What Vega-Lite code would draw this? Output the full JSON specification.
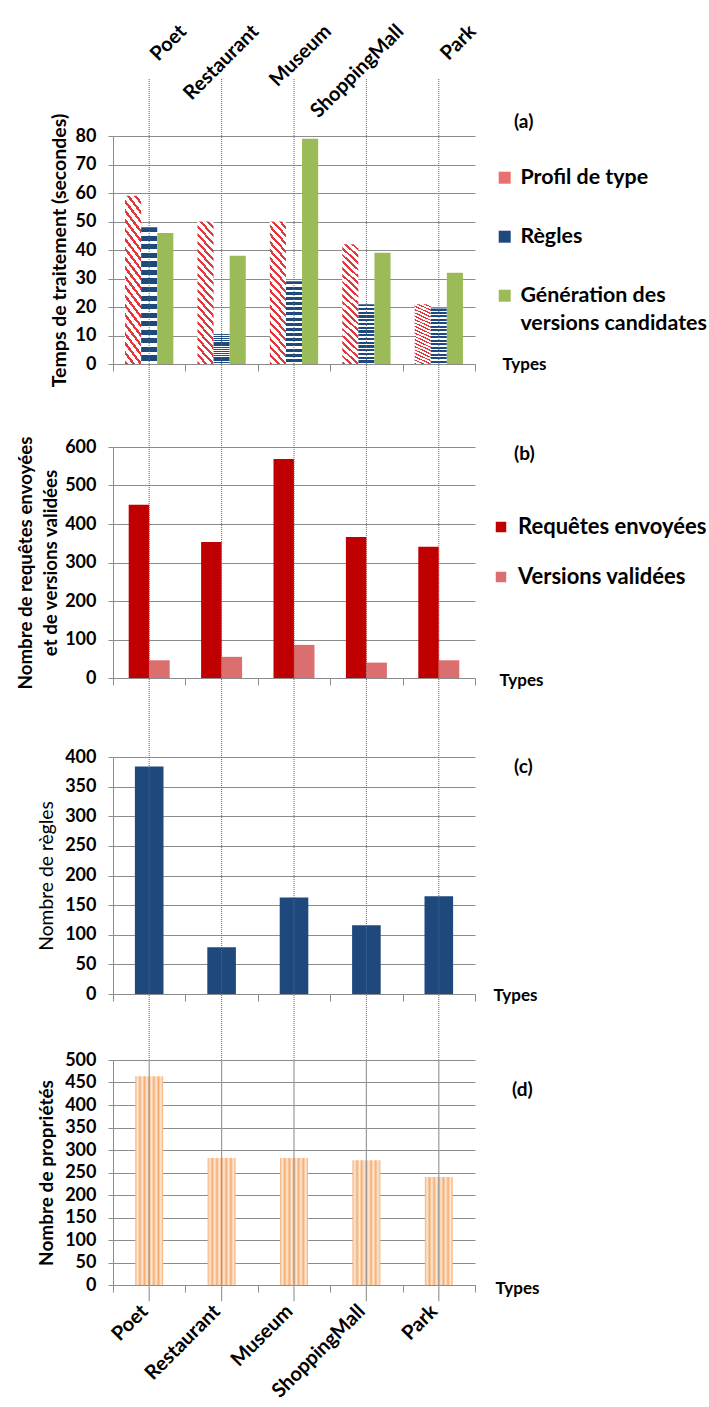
{
  "$schema": "https://vega.github.io/schema/vega-lite/v6.json",
  "background": "white",
  "padding": {"left": 16, "top": 20, "right": 0, "bottom": 0},
  "spacing": 83,
  "bounds": "flush",
  "resolve": {"scale": {"fill": "independent"}, "legend": {"fill": "independent"}},
  "config": {
    "font": "Lato",
    "view": {"stroke": null},
    "axis": {
      "domainColor": "#8C8C8C",
      "gridColor": "#8C8C8C",
      "tickColor": "#8C8C8C",
      "labelFont": "Lato",
      "labelFontWeight": "bold",
      "labelFontSize": 18,
      "labelColor": "#000000",
      "titleColor": "#000000",
      "titleFont": "Lato",
      "titleFontWeight": "bold",
      "titleFontSize": 19
    },
    "legend": {"labelFont": "Lato", "labelFontWeight": "bold", "labelColor": "#000000", "labelLimit": 300},
    "title": {"font": "Lato", "fontWeight": "bold", "fontSize": 19, "color": "#000000"}
  },
  "vconcat": [
    {
      "width": 362,
      "height": 228,
      "title": {"text": "(a)", "orient": "top", "anchor": "start", "frame": "group", "align": "left", "dx": 401, "dy": 111, "offset": 0},
      "data": {"values": [
        {"type": "Poet", "serie": "Profil de type", "value": 59},
        {"type": "Poet", "serie": "Règles", "value": 48},
        {"type": "Poet", "serie": "Génération des versions candidates", "value": 46},
        {"type": "Restaurant", "serie": "Profil de type", "value": 50},
        {"type": "Restaurant", "serie": "Règles", "value": 10.5},
        {"type": "Restaurant", "serie": "Génération des versions candidates", "value": 38},
        {"type": "Museum", "serie": "Profil de type", "value": 50},
        {"type": "Museum", "serie": "Règles", "value": 29},
        {"type": "Museum", "serie": "Génération des versions candidates", "value": 79},
        {"type": "ShoppingMall", "serie": "Profil de type", "value": 42},
        {"type": "ShoppingMall", "serie": "Règles", "value": 21},
        {"type": "ShoppingMall", "serie": "Génération des versions candidates", "value": 39},
        {"type": "Park", "serie": "Profil de type", "value": 21},
        {"type": "Park", "serie": "Règles", "value": 19.5},
        {"type": "Park", "serie": "Génération des versions candidates", "value": 32}
      ]},
      "resolve": {"axis": {"x": "independent"}},
      "layer": [
        {
          "layer": [
            {
              "transform": [{"filter": "datum.serie == 'Profil de type'"}],
              "mark": {"type": "bar", "width": 16.1, "xOffset": -16.1},
              "encoding": {
                "x": {"field": "type", "type": "nominal", "sort": ["Poet", "Restaurant", "Museum", "ShoppingMall", "Park"], "scale": {"paddingInner": 0, "paddingOuter": 0},
                      "axis": {"orient": "bottom", "labels": false, "grid": false, "tickBand": "extent", "tickSize": 7, "title": "Types", "titleX": 389, "titleY": 0, "titleAlign": "left", "titleBaseline": "middle", "titleAngle": 0, "titleFontSize": 17}},
                "y": {"field": "value", "type": "quantitative", "scale": {"domain": [0, 80], "nice": false},
                      "axis": {"values": [0, 10, 20, 30, 40, 50, 60, 70, 80], "tickSize": 5, "labelPadding": 12, "title": "Temps de traitement (secondes)", "titleFontSize": 19.5, "titlePadding": 6}},
                "fill": {
                  "datum": "Profil de type",
                  "scale": {"domain": ["Profil de type", "Règles", "Génération des versions candidates"], "range": ["#E87070", "#1F497D", "#9BBB59"]},
                  "legend": {"orient": "none", "legendX": 381, "legendY": 31, "title": null, "symbolType": "square", "symbolSize": 144, "symbolStrokeWidth": 0, "labelFontSize": 21.4, "labelOffset": 5, "rowPadding": 36,
                             "labelExpr": "datum.label == 'Génération des versions candidates' ? ['Génération des', 'versions candidates'] : datum.label",
                             "encode": {"labels": {"update": {"lineHeight": {"value": 28}}}}},
                  "condition": {"test": "true", "value": {"gradient": "linear", "x1": 0, "y1": 1, "x2": 0.1385, "y2": -0.108, "stops": [
                    {"offset": 0, "color": "#E0383C"}, {"offset": 0.02, "color": "#E0383C"}, {"offset": 0.02, "color": "#FFFFFF"}, {"offset": 0.05, "color": "#FFFFFF"},
                    {"offset": 0.05, "color": "#E0383C"}, {"offset": 0.07, "color": "#E0383C"}, {"offset": 0.07, "color": "#FFFFFF"}, {"offset": 0.1, "color": "#FFFFFF"},
                    {"offset": 0.1, "color": "#E0383C"}, {"offset": 0.12, "color": "#E0383C"}, {"offset": 0.12, "color": "#FFFFFF"}, {"offset": 0.15, "color": "#FFFFFF"},
                    {"offset": 0.15, "color": "#E0383C"}, {"offset": 0.17, "color": "#E0383C"}, {"offset": 0.17, "color": "#FFFFFF"}, {"offset": 0.2, "color": "#FFFFFF"},
                    {"offset": 0.2, "color": "#E0383C"}, {"offset": 0.22, "color": "#E0383C"}, {"offset": 0.22, "color": "#FFFFFF"}, {"offset": 0.25, "color": "#FFFFFF"},
                    {"offset": 0.25, "color": "#E0383C"}, {"offset": 0.27, "color": "#E0383C"}, {"offset": 0.27, "color": "#FFFFFF"}, {"offset": 0.3, "color": "#FFFFFF"},
                    {"offset": 0.3, "color": "#E0383C"}, {"offset": 0.32, "color": "#E0383C"}, {"offset": 0.32, "color": "#FFFFFF"}, {"offset": 0.35, "color": "#FFFFFF"},
                    {"offset": 0.35, "color": "#E0383C"}, {"offset": 0.37, "color": "#E0383C"}, {"offset": 0.37, "color": "#FFFFFF"}, {"offset": 0.4, "color": "#FFFFFF"},
                    {"offset": 0.4, "color": "#E0383C"}, {"offset": 0.42, "color": "#E0383C"}, {"offset": 0.42, "color": "#FFFFFF"}, {"offset": 0.45, "color": "#FFFFFF"},
                    {"offset": 0.45, "color": "#E0383C"}, {"offset": 0.47, "color": "#E0383C"}, {"offset": 0.47, "color": "#FFFFFF"}, {"offset": 0.5, "color": "#FFFFFF"},
                    {"offset": 0.5, "color": "#E0383C"}, {"offset": 0.52, "color": "#E0383C"}, {"offset": 0.52, "color": "#FFFFFF"}, {"offset": 0.55, "color": "#FFFFFF"},
                    {"offset": 0.55, "color": "#E0383C"}, {"offset": 0.57, "color": "#E0383C"}, {"offset": 0.57, "color": "#FFFFFF"}, {"offset": 0.6, "color": "#FFFFFF"},
                    {"offset": 0.6, "color": "#E0383C"}, {"offset": 0.62, "color": "#E0383C"}, {"offset": 0.62, "color": "#FFFFFF"}, {"offset": 0.65, "color": "#FFFFFF"},
                    {"offset": 0.65, "color": "#E0383C"}, {"offset": 0.67, "color": "#E0383C"}, {"offset": 0.67, "color": "#FFFFFF"}, {"offset": 0.7, "color": "#FFFFFF"},
                    {"offset": 0.7, "color": "#E0383C"}, {"offset": 0.72, "color": "#E0383C"}, {"offset": 0.72, "color": "#FFFFFF"}, {"offset": 0.75, "color": "#FFFFFF"},
                    {"offset": 0.75, "color": "#E0383C"}, {"offset": 0.77, "color": "#E0383C"}, {"offset": 0.77, "color": "#FFFFFF"}, {"offset": 0.8, "color": "#FFFFFF"},
                    {"offset": 0.8, "color": "#E0383C"}, {"offset": 0.82, "color": "#E0383C"}, {"offset": 0.82, "color": "#FFFFFF"}, {"offset": 0.85, "color": "#FFFFFF"},
                    {"offset": 0.85, "color": "#E0383C"}, {"offset": 0.87, "color": "#E0383C"}, {"offset": 0.87, "color": "#FFFFFF"}, {"offset": 0.9, "color": "#FFFFFF"},
                    {"offset": 0.9, "color": "#E0383C"}, {"offset": 0.92, "color": "#E0383C"}, {"offset": 0.92, "color": "#FFFFFF"}, {"offset": 0.95, "color": "#FFFFFF"},
                    {"offset": 0.95, "color": "#E0383C"}, {"offset": 0.97, "color": "#E0383C"}, {"offset": 0.97, "color": "#FFFFFF"}, {"offset": 1, "color": "#FFFFFF"}
                  ]}}
                }
              }
            },
            {
              "transform": [{"filter": "datum.serie == 'Règles'"}],
              "mark": {"type": "bar", "width": 16.1, "xOffset": 0},
              "encoding": {
                "x": {"field": "type", "type": "nominal", "sort": ["Poet", "Restaurant", "Museum", "ShoppingMall", "Park"], "scale": {"paddingInner": 0, "paddingOuter": 0},
                      "axis": {"orient": "bottom", "labels": false, "grid": false, "tickBand": "extent", "tickSize": 7, "title": "Types", "titleX": 389, "titleY": 0, "titleAlign": "left", "titleBaseline": "middle", "titleAngle": 0, "titleFontSize": 17}},
                "y": {"field": "value", "type": "quantitative", "scale": {"domain": [0, 80], "nice": false},
                      "axis": {"values": [0, 10, 20, 30, 40, 50, 60, 70, 80], "tickSize": 5, "labelPadding": 12, "title": "Temps de traitement (secondes)", "titleFontSize": 19.5, "titlePadding": 6}},
                "fill": {
                  "datum": "Règles",
                  "scale": {"domain": ["Profil de type", "Règles", "Génération des versions candidates"], "range": ["#E87070", "#1F497D", "#9BBB59"]},
                  "legend": {"orient": "none", "legendX": 381, "legendY": 31, "title": null, "symbolType": "square", "symbolSize": 144, "symbolStrokeWidth": 0, "labelFontSize": 21.4, "labelOffset": 5, "rowPadding": 36,
                             "labelExpr": "datum.label == 'Génération des versions candidates' ? ['Génération des', 'versions candidates'] : datum.label",
                             "encode": {"labels": {"update": {"lineHeight": {"value": 28}}}}},
                  "condition": {"test": "true", "value": {"gradient": "linear", "x1": 0, "y1": 0, "x2": 0, "y2": 1, "stops": [
                    {"offset": 0, "color": "#1F497D"}, {"offset": 0.0375, "color": "#1F497D"}, {"offset": 0.0375, "color": "#FFFFFF"}, {"offset": 0.0625, "color": "#FFFFFF"},
                    {"offset": 0.0625, "color": "#1F497D"}, {"offset": 0.1, "color": "#1F497D"}, {"offset": 0.1, "color": "#FFFFFF"}, {"offset": 0.125, "color": "#FFFFFF"},
                    {"offset": 0.125, "color": "#1F497D"}, {"offset": 0.1625, "color": "#1F497D"}, {"offset": 0.1625, "color": "#FFFFFF"}, {"offset": 0.1875, "color": "#FFFFFF"},
                    {"offset": 0.1875, "color": "#1F497D"}, {"offset": 0.225, "color": "#1F497D"}, {"offset": 0.225, "color": "#FFFFFF"}, {"offset": 0.25, "color": "#FFFFFF"},
                    {"offset": 0.25, "color": "#1F497D"}, {"offset": 0.2875, "color": "#1F497D"}, {"offset": 0.2875, "color": "#FFFFFF"}, {"offset": 0.3125, "color": "#FFFFFF"},
                    {"offset": 0.3125, "color": "#1F497D"}, {"offset": 0.35, "color": "#1F497D"}, {"offset": 0.35, "color": "#FFFFFF"}, {"offset": 0.375, "color": "#FFFFFF"},
                    {"offset": 0.375, "color": "#1F497D"}, {"offset": 0.4125, "color": "#1F497D"}, {"offset": 0.4125, "color": "#FFFFFF"}, {"offset": 0.4375, "color": "#FFFFFF"},
                    {"offset": 0.4375, "color": "#1F497D"}, {"offset": 0.475, "color": "#1F497D"}, {"offset": 0.475, "color": "#FFFFFF"}, {"offset": 0.5, "color": "#FFFFFF"},
                    {"offset": 0.5, "color": "#1F497D"}, {"offset": 0.5375, "color": "#1F497D"}, {"offset": 0.5375, "color": "#FFFFFF"}, {"offset": 0.5625, "color": "#FFFFFF"},
                    {"offset": 0.5625, "color": "#1F497D"}, {"offset": 0.6, "color": "#1F497D"}, {"offset": 0.6, "color": "#FFFFFF"}, {"offset": 0.625, "color": "#FFFFFF"},
                    {"offset": 0.625, "color": "#1F497D"}, {"offset": 0.6625, "color": "#1F497D"}, {"offset": 0.6625, "color": "#FFFFFF"}, {"offset": 0.6875, "color": "#FFFFFF"},
                    {"offset": 0.6875, "color": "#1F497D"}, {"offset": 0.725, "color": "#1F497D"}, {"offset": 0.725, "color": "#FFFFFF"}, {"offset": 0.75, "color": "#FFFFFF"},
                    {"offset": 0.75, "color": "#1F497D"}, {"offset": 0.7875, "color": "#1F497D"}, {"offset": 0.7875, "color": "#FFFFFF"}, {"offset": 0.8125, "color": "#FFFFFF"},
                    {"offset": 0.8125, "color": "#1F497D"}, {"offset": 0.85, "color": "#1F497D"}, {"offset": 0.85, "color": "#FFFFFF"}, {"offset": 0.875, "color": "#FFFFFF"},
                    {"offset": 0.875, "color": "#1F497D"}, {"offset": 0.9125, "color": "#1F497D"}, {"offset": 0.9125, "color": "#FFFFFF"}, {"offset": 0.9375, "color": "#FFFFFF"},
                    {"offset": 0.9375, "color": "#1F497D"}, {"offset": 0.975, "color": "#1F497D"}, {"offset": 0.975, "color": "#FFFFFF"}, {"offset": 1, "color": "#FFFFFF"}
                  ]}}
                }
              }
            },
            {
              "transform": [{"filter": "datum.serie == 'Génération des versions candidates'"}],
              "mark": {"type": "bar", "width": 16.1, "xOffset": 16.1},
              "encoding": {
                "x": {"field": "type", "type": "nominal", "sort": ["Poet", "Restaurant", "Museum", "ShoppingMall", "Park"], "scale": {"paddingInner": 0, "paddingOuter": 0},
                      "axis": {"orient": "bottom", "labels": false, "grid": false, "tickBand": "extent", "tickSize": 7, "title": "Types", "titleX": 389, "titleY": 0, "titleAlign": "left", "titleBaseline": "middle", "titleAngle": 0, "titleFontSize": 17}},
                "y": {"field": "value", "type": "quantitative", "scale": {"domain": [0, 80], "nice": false},
                      "axis": {"values": [0, 10, 20, 30, 40, 50, 60, 70, 80], "tickSize": 5, "labelPadding": 12, "title": "Temps de traitement (secondes)", "titleFontSize": 19.5, "titlePadding": 6}},
                "fill": {
                  "datum": "Génération des versions candidates",
                  "scale": {"domain": ["Profil de type", "Règles", "Génération des versions candidates"], "range": ["#E87070", "#1F497D", "#9BBB59"]},
                  "legend": {"orient": "none", "legendX": 381, "legendY": 31, "title": null, "symbolType": "square", "symbolSize": 144, "symbolStrokeWidth": 0, "labelFontSize": 21.4, "labelOffset": 5, "rowPadding": 36,
                             "labelExpr": "datum.label == 'Génération des versions candidates' ? ['Génération des', 'versions candidates'] : datum.label",
                             "encode": {"labels": {"update": {"lineHeight": {"value": 28}}}}}
                }
              }
            }
          ]
        },
        {
          "data": {"values": [{"type": "Poet"}, {"type": "Restaurant"}, {"type": "Museum"}, {"type": "ShoppingMall"}, {"type": "Park"}]},
          "mark": {"type": "rule", "clip": false, "color": "#666666", "strokeDash": [1, 1], "strokeWidth": 1},
          "encoding": {
            "x": {
              "field": "type", "type": "nominal",
              "sort": ["Poet", "Restaurant", "Museum", "ShoppingMall", "Park"],
              "axis": {"orient": "top", "domain": false, "ticks": false, "grid": false, "title": null,
                       "labelAngle": -45, "labelAlign": "right", "labelBaseline": "middle", "labelPadding": 108, "labelOffset": 34,
                       "labelFontSize": 20, "labelOverlap": false}
            },
            "y": {"datum": 100, "type": "quantitative", "scale": {"domain": [0, 80], "nice": false},
                  "axis": {"values": [0, 10, 20, 30, 40, 50, 60, 70, 80], "tickSize": 5, "labelPadding": 12, "title": "Temps de traitement (secondes)", "titleFontSize": 19.5, "titlePadding": 6}},
            "y2": {"datum": -29}
          }
        }
      ]
    },
    {
      "spacing": 79,
      "bounds": "flush",
      "resolve": {"scale": {"fill": "independent"}, "legend": {"fill": "independent"}},
      "vconcat": [
        {
          "width": 362,
          "height": 231,
          "title": {"text": "(b)", "orient": "top", "anchor": "start", "frame": "group", "align": "left", "dx": 401, "dy": 28, "offset": 0},
          "data": {"values": [
            {"type": "Poet", "serie": "Requêtes envoyées", "value": 450},
            {"type": "Poet", "serie": "Versions validées", "value": 46},
            {"type": "Restaurant", "serie": "Requêtes envoyées", "value": 353},
            {"type": "Restaurant", "serie": "Versions validées", "value": 55},
            {"type": "Museum", "serie": "Requêtes envoyées", "value": 569},
            {"type": "Museum", "serie": "Versions validées", "value": 86},
            {"type": "ShoppingMall", "serie": "Requêtes envoyées", "value": 366},
            {"type": "ShoppingMall", "serie": "Versions validées", "value": 40},
            {"type": "Park", "serie": "Requêtes envoyées", "value": 341},
            {"type": "Park", "serie": "Versions validées", "value": 46}
          ]},
          "layer": [
            {
              "transform": [{"filter": "datum.serie == 'Requêtes envoyées'"}],
              "mark": {"type": "bar", "width": 20.5, "xOffset": -10.25},
              "encoding": {
                "x": {"field": "type", "type": "nominal", "sort": ["Poet", "Restaurant", "Museum", "ShoppingMall", "Park"], "scale": {"paddingInner": 0, "paddingOuter": 0},
                      "axis": {"orient": "bottom", "labels": false, "grid": false, "tickBand": "extent", "tickSize": 7, "title": "Types", "titleX": 386, "titleY": 2, "titleAlign": "left", "titleBaseline": "middle", "titleAngle": 0, "titleFontSize": 17}},
                "y": {"field": "value", "type": "quantitative", "scale": {"domain": [0, 600], "nice": false},
                      "axis": {"values": [0, 100, 200, 300, 400, 500, 600], "tickSize": 5, "labelPadding": 12, "title": ["Nombre de requêtes envoyées", "et de versions validées"], "titleFontSize": 18.7, "titlePadding": 4, "titleLineHeight": 25}},
                "fill": {
                  "datum": "Requêtes envoyées",
                  "scale": {"domain": ["Requêtes envoyées", "Versions validées"], "range": ["#C00000", "#DB6F6F"]},
                  "legend": {"orient": "none", "legendX": 377, "legendY": 69, "title": null, "symbolType": "square", "symbolSize": 110, "symbolStrokeWidth": 0, "labelFontSize": 22, "labelOffset": 6, "rowPadding": 28}
                }
              }
            },
            {
              "transform": [{"filter": "datum.serie == 'Versions validées'"}],
              "mark": {"type": "bar", "width": 20.5, "xOffset": 10.25},
              "encoding": {
                "x": {"field": "type", "type": "nominal", "sort": ["Poet", "Restaurant", "Museum", "ShoppingMall", "Park"], "scale": {"paddingInner": 0, "paddingOuter": 0},
                      "axis": {"orient": "bottom", "labels": false, "grid": false, "tickBand": "extent", "tickSize": 7, "title": "Types", "titleX": 386, "titleY": 2, "titleAlign": "left", "titleBaseline": "middle", "titleAngle": 0, "titleFontSize": 17}},
                "y": {"field": "value", "type": "quantitative", "scale": {"domain": [0, 600], "nice": false},
                      "axis": {"values": [0, 100, 200, 300, 400, 500, 600], "tickSize": 5, "labelPadding": 12, "title": ["Nombre de requêtes envoyées", "et de versions validées"], "titleFontSize": 18.7, "titlePadding": 4, "titleLineHeight": 25}},
                "fill": {
                  "datum": "Versions validées",
                  "scale": {"domain": ["Requêtes envoyées", "Versions validées"], "range": ["#C00000", "#DB6F6F"]},
                  "legend": {"orient": "none", "legendX": 377, "legendY": 69, "title": null, "symbolType": "square", "symbolSize": 110, "symbolStrokeWidth": 0, "labelFontSize": 22, "labelOffset": 6, "rowPadding": 28}
                }
              }
            },
            {
              "data": {"values": [{"type": "Poet"}, {"type": "Restaurant"}, {"type": "Museum"}, {"type": "ShoppingMall"}, {"type": "Park"}]},
              "mark": {"type": "rule", "clip": false, "color": "#666666", "strokeDash": [1, 1], "strokeWidth": 1},
              "encoding": {
                "x": {"field": "type", "type": "nominal", "sort": ["Poet", "Restaurant", "Museum", "ShoppingMall", "Park"],
                      "axis": {"orient": "bottom", "labels": false, "grid": false, "tickBand": "extent", "tickSize": 7, "title": "Types", "titleX": 386, "titleY": 2, "titleAlign": "left", "titleBaseline": "middle", "titleAngle": 0, "titleFontSize": 17}},
                "y": {"datum": 600, "type": "quantitative", "scale": {"domain": [0, 600], "nice": false},
                      "axis": {"values": [0, 100, 200, 300, 400, 500, 600], "tickSize": 5, "labelPadding": 12, "title": ["Nombre de requêtes envoyées", "et de versions validées"], "titleFontSize": 18.7, "titlePadding": 4, "titleLineHeight": 25}},
                "y2": {"datum": -205}
              }
            }
          ]
        },
        {
          "spacing": 66,
          "bounds": "flush",
          "vconcat": [
            {
              "width": 362,
              "height": 237,
              "title": {"text": "(c)", "orient": "top", "anchor": "start", "frame": "group", "align": "left", "dx": 401, "dy": 29, "offset": 0},
              "layer": [
                {
                  "data": {"values": [
                    {"type": "Poet", "value": 384},
                    {"type": "Restaurant", "value": 79},
                    {"type": "Museum", "value": 163},
                    {"type": "ShoppingMall", "value": 116},
                    {"type": "Park", "value": 165}
                  ]},
                  "mark": {"type": "bar", "width": {"band": 0.395}, "fill": "#1F497D"},
                  "encoding": {
                    "x": {
                      "field": "type", "type": "nominal",
                      "sort": ["Poet", "Restaurant", "Museum", "ShoppingMall", "Park"],
                      "scale": {"paddingInner": 0, "paddingOuter": 0},
                      "axis": {"orient": "bottom", "labels": false, "grid": false, "tickBand": "extent", "tickSize": 7,
                               "title": "Types", "titleX": 380, "titleY": 1, "titleAlign": "left", "titleBaseline": "middle", "titleAngle": 0, "titleFontSize": 17}
                    },
                    "y": {
                      "field": "value", "type": "quantitative",
                      "scale": {"domain": [0, 400], "nice": false},
                      "axis": {"values": [0, 50, 100, 150, 200, 250, 300, 350, 400], "tickSize": 5, "labelPadding": 12,
                               "title": "Nombre de règles", "titleFontWeight": "normal", "titleFontSize": 19.3, "titlePadding": 8}
                    }
                  }
                },
                {
                  "data": {"values": [{"type": "Poet"}, {"type": "Restaurant"}, {"type": "Museum"}, {"type": "ShoppingMall"}, {"type": "Park"}]},
                  "mark": {"type": "rule", "clip": false, "color": "#666666", "strokeDash": [1, 1], "strokeWidth": 1},
                  "encoding": {
                    "x": {"field": "type", "type": "nominal", "sort": ["Poet", "Restaurant", "Museum", "ShoppingMall", "Park"]},
                    "y": {"datum": 400, "type": "quantitative", "scale": {"domain": [0, 400], "nice": false},
                          "axis": {"values": [0, 50, 100, 150, 200, 250, 300, 350, 400], "tickSize": 5, "labelPadding": 12,
                                   "title": "Nombre de règles", "titleFontWeight": "normal", "titleFontSize": 19.3, "titlePadding": 8}},
                    "y2": {"datum": -111}
                  }
                }
              ]
            },
            {
              "width": 362,
              "height": 225,
              "title": {"text": "(d)", "orient": "top", "anchor": "start", "frame": "group", "align": "left", "dx": 399, "dy": 49, "offset": 0},
              "layer": [
                {
                  "data": {"values": [
                    {"type": "Poet", "value": 464},
                    {"type": "Restaurant", "value": 282},
                    {"type": "Museum", "value": 282},
                    {"type": "ShoppingMall", "value": 277},
                    {"type": "Park", "value": 240}
                  ]},
                  "mark": {"type": "bar", "width": {"band": 0.385},
                    "fill": {"gradient": "linear", "x1": 0, "y1": 0, "x2": 1, "y2": 0, "stops": [
                      {"offset": 0, "color": "#F5AE72"}, {"offset": 0.0833, "color": "#FDE9D8"}, {"offset": 0.1667, "color": "#F5AE72"},
                      {"offset": 0.25, "color": "#FDE9D8"}, {"offset": 0.3333, "color": "#F5AE72"}, {"offset": 0.4167, "color": "#FDE9D8"},
                      {"offset": 0.5, "color": "#F5AE72"}, {"offset": 0.5833, "color": "#FDE9D8"}, {"offset": 0.6667, "color": "#F5AE72"},
                      {"offset": 0.75, "color": "#FDE9D8"}, {"offset": 0.8333, "color": "#F5AE72"}, {"offset": 0.9167, "color": "#FDE9D8"},
                      {"offset": 1, "color": "#F5AE72"}
                    ]}},
                  "encoding": {
                    "x": {
                      "field": "type", "type": "nominal",
                      "sort": ["Poet", "Restaurant", "Museum", "ShoppingMall", "Park"],
                      "scale": {"paddingInner": 0, "paddingOuter": 0},
                      "axis": {"orient": "bottom", "grid": false, "tickBand": "extent", "tickSize": 7,
                               "labelAngle": -45, "labelAlign": "right", "labelBaseline": "middle", "labelPadding": 16, "labelOffset": -5, "labelFontSize": 20, "labelOverlap": false,
                               "title": "Types", "titleX": 382, "titleY": 3, "titleAlign": "left", "titleBaseline": "middle", "titleAngle": 0, "titleFontSize": 17}
                    },
                    "y": {
                      "field": "value", "type": "quantitative",
                      "scale": {"domain": [0, 500], "nice": false},
                      "axis": {"values": [0, 50, 100, 150, 200, 250, 300, 350, 400, 450, 500], "tickSize": 5, "labelPadding": 12,
                               "title": "Nombre de propriétés", "titleFontSize": 19, "titlePadding": 8}
                    }
                  }
                },
                {
                  "data": {"values": [{"type": "Poet"}, {"type": "Restaurant"}, {"type": "Museum"}, {"type": "ShoppingMall"}, {"type": "Park"}]},
                  "mark": {"type": "rule", "clip": false, "color": "#9A9A9A", "strokeWidth": 1.2},
                  "encoding": {
                    "x": {"field": "type", "type": "nominal", "sort": ["Poet", "Restaurant", "Museum", "ShoppingMall", "Park"]},
                    "y": {"datum": 500, "type": "quantitative", "scale": {"domain": [0, 500], "nice": false},
                          "axis": {"values": [0, 50, 100, 150, 200, 250, 300, 350, 400, 450, 500], "tickSize": 5, "labelPadding": 12,
                                   "title": "Nombre de propriétés", "titleFontSize": 19, "titlePadding": 8}},
                    "y2": {"datum": -36}
                  }
                }
              ]
            }
          ]
        }
      ]
    }
  ]
}
